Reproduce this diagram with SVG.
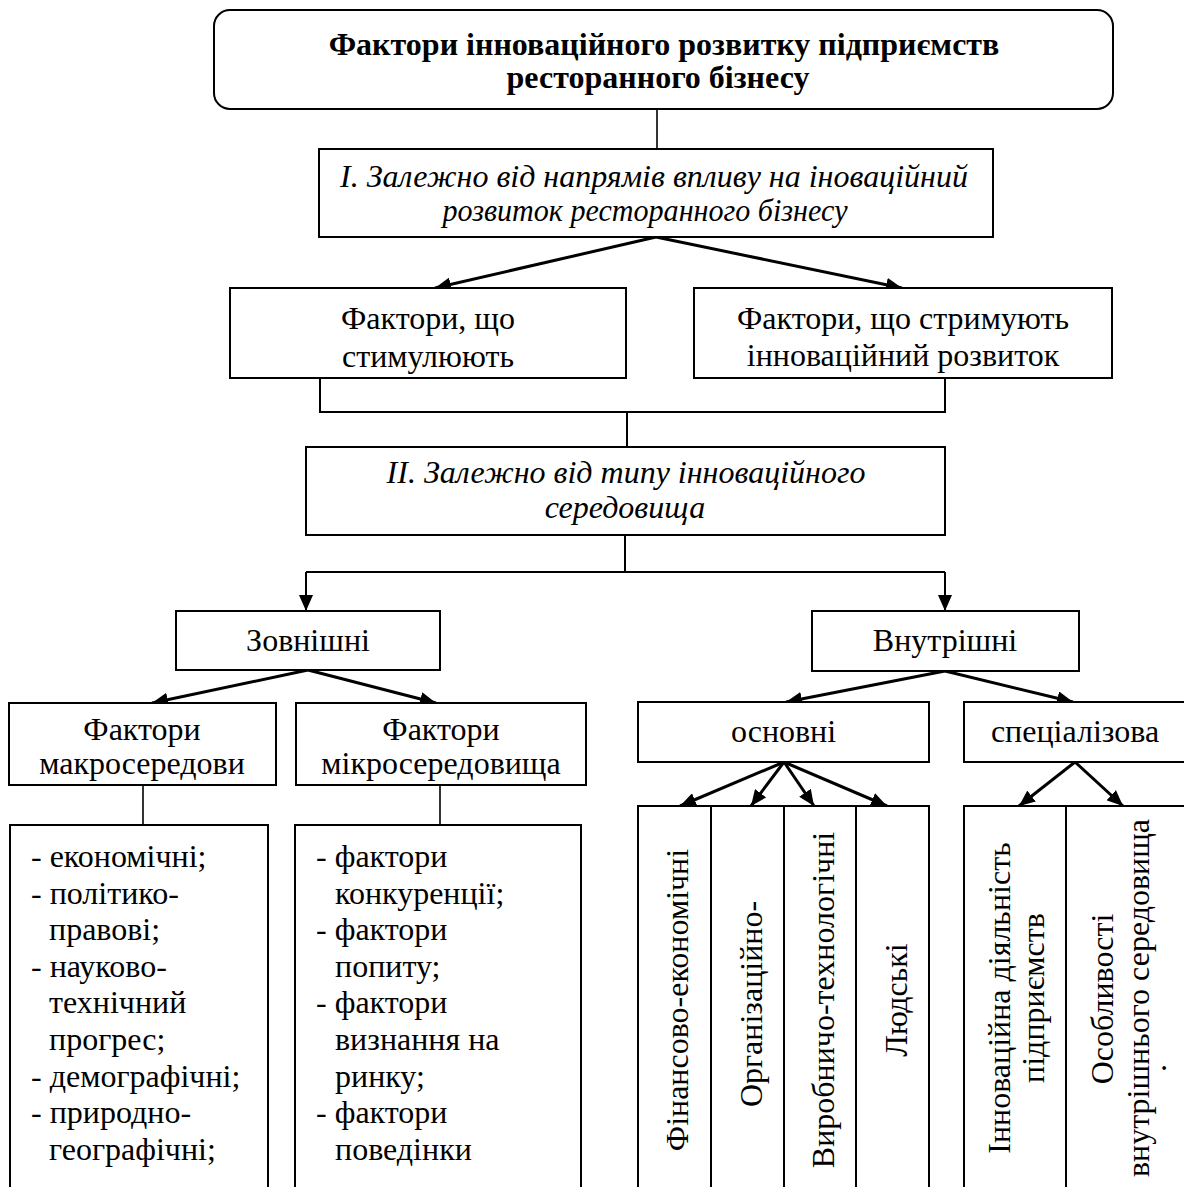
<svg xmlns="http://www.w3.org/2000/svg" width="1184" height="1187" viewBox="0 0 1184 1187">
<style>
.box{fill:#fff;stroke:#000;stroke-width:2}
.t{font-family:'Liberation Serif','Times New Roman',Times,'DejaVu Serif',serif;font-size:32px;fill:#000}
.c{text-anchor:middle}
.b{font-weight:bold;font-size:32px}
.i{font-style:italic;font-size:32px}
.thin{fill:none;stroke:#000;stroke-width:1.6}
.ln{fill:none;stroke:#000;stroke-width:2}
.arr{fill:none;stroke:#000;stroke-width:3;marker-end:url(#ah)}
.arr2{fill:none;stroke:#000;stroke-width:2;marker-end:url(#ah)}
</style>
<defs>
<marker id="ah" markerUnits="userSpaceOnUse" markerWidth="18" markerHeight="14" refX="16" refY="7" orient="auto">
<path d="M0,0 L16,7 L0,14 z" fill="#000"/>
</marker>
</defs>
<rect width="1184" height="1187" fill="#fff"/>

<g id="connectors">
<line class="thin" x1="657" y1="109" x2="657" y2="149"/>
<line class="arr" x1="656" y1="237" x2="435" y2="288"/>
<line class="arr" x1="656" y1="237" x2="902" y2="288"/>
<polyline class="ln" points="320,378 320,412 945,412 945,378"/>
<line class="ln" x1="627" y1="412" x2="627" y2="447"/>
<line class="ln" x1="625" y1="535" x2="625" y2="572"/>
<line class="ln" x1="306" y1="572" x2="945" y2="572"/>
<line class="arr2" x1="306" y1="572" x2="306" y2="611"/>
<line class="arr2" x1="945" y1="572" x2="945" y2="611"/>
<line class="arr" x1="308" y1="670" x2="152" y2="703"/>
<line class="arr" x1="308" y1="670" x2="436" y2="703"/>
<line class="thin" x1="143" y1="785" x2="143" y2="825"/>
<line class="thin" x1="440" y1="785" x2="440" y2="825"/>
<line class="arr" x1="945" y1="671" x2="786" y2="702"/>
<line class="arr" x1="945" y1="671" x2="1073" y2="702"/>
<line class="arr" x1="784" y1="762" x2="680" y2="806"/>
<line class="arr" x1="784" y1="762" x2="751" y2="806"/>
<line class="arr" x1="784" y1="762" x2="814" y2="806"/>
<line class="arr" x1="784" y1="762" x2="887" y2="806"/>
<line class="arr" x1="1075" y1="762" x2="1019" y2="806"/>
<line class="arr" x1="1075" y1="762" x2="1123" y2="806"/>
</g>

<g id="title">
<rect class="box" x="214" y="10" width="899" height="99" rx="16"/>
<text class="t c b" x="664" y="55">Фактори інноваційного розвитку підприємств</text>
<text class="t c b" x="658" y="88">ресторанного бізнесу</text>
</g>

<g id="group-I">
<rect class="box" x="319" y="149" width="674" height="88"/>
<text class="t c i" x="654" y="187">І. Залежно від напрямів впливу на іноваційний</text>
<text class="t c i" x="645" y="221" textLength="405" lengthAdjust="spacingAndGlyphs">розвиток ресторанного бізнесу</text>
</g>

<g id="stimulating">
<rect class="box" x="230" y="288" width="396" height="90"/>
<text class="t c" x="428" y="329">Фактори, що</text>
<text class="t c" x="428" y="367">стимулюють</text>
</g>

<g id="restraining">
<rect class="box" x="694" y="288" width="418" height="90"/>
<text class="t c" x="903" y="329">Фактори, що стримують</text>
<text class="t c" x="903" y="366">інноваційний розвиток</text>
</g>

<g id="group-II">
<rect class="box" x="306" y="447" width="639" height="88"/>
<text class="t c i" x="626" y="483">ІІ. Залежно від типу інноваційного</text>
<text class="t c i" x="625" y="518">середовища</text>
</g>

<g id="external">
<rect class="box" x="176" y="611" width="264" height="59"/>
<text class="t c" x="308" y="651">Зовнішні</text>
</g>

<g id="internal">
<rect class="box" x="812" y="611" width="267" height="60"/>
<text class="t c" x="945" y="651">Внутрішні</text>
</g>

<g id="macro">
<rect class="box" x="9" y="703" width="267" height="82"/>
<text class="t c" x="142" y="740">Фактори</text>
<text class="t c" x="142" y="774">макросередови</text>
</g>

<g id="micro">
<rect class="box" x="296" y="703" width="290" height="82"/>
<text class="t c" x="441" y="740">Фактори</text>
<text class="t c" x="441" y="774">мікросередовища</text>
</g>

<g id="macro-list">
<rect class="box" x="10" y="825" width="258" height="400"/>
<text class="t" x="31" y="867">- економічні;</text>
<text class="t" x="31" y="903.6">- політико-</text>
<text class="t" x="49" y="940.2">правові;</text>
<text class="t" x="31" y="976.8">- науково-</text>
<text class="t" x="49" y="1013.4">технічний</text>
<text class="t" x="49" y="1050">прогрес;</text>
<text class="t" x="31" y="1086.6">- демографічні;</text>
<text class="t" x="31" y="1123.2">- природно-</text>
<text class="t" x="49" y="1159.8">географічні;</text>
</g>

<g id="micro-list">
<rect class="box" x="295" y="825" width="286" height="400"/>
<text class="t" x="316" y="867">- фактори</text>
<text class="t" x="335" y="903.6">конкуренції;</text>
<text class="t" x="316" y="940.2">- фактори</text>
<text class="t" x="335" y="976.8">попиту;</text>
<text class="t" x="316" y="1013.4">- фактори</text>
<text class="t" x="335" y="1050">визнання на</text>
<text class="t" x="335" y="1086.6">ринку;</text>
<text class="t" x="316" y="1123.2">- фактори</text>
<text class="t" x="335" y="1159.8">поведінки</text>
</g>

<g id="basic">
<rect class="box" x="638" y="702" width="291" height="60"/>
<text class="t c" x="783.5" y="742">основні</text>
</g>

<g id="specialized">
<rect class="box" x="964" y="702" width="240" height="60"/>
<text class="t c" x="1075" y="742">спеціалізова</text>
</g>

<g id="basic-columns">
<rect class="box" x="638" y="806" width="291" height="400"/>
<line class="ln" x1="711" y1="806" x2="711" y2="1187"/>
<line class="ln" x1="784" y1="806" x2="784" y2="1187"/>
<line class="ln" x1="856" y1="806" x2="856" y2="1187"/>
<text class="t c" transform="translate(688,1000) rotate(-90)">Фінансово-економічні</text>
<text class="t c" transform="translate(762,1004) rotate(-90)">Організаційно-</text>
<text class="t c" transform="translate(834,1000) rotate(-90)">Виробничо-технологічні</text>
<text class="t c" transform="translate(907,1000) rotate(-90)">Людські</text>
</g>

<g id="specialized-columns">
<rect class="box" x="964" y="806" width="240" height="400"/>
<line class="ln" x1="1066" y1="806" x2="1066" y2="1187"/>
<text class="t c" transform="translate(1010,998) rotate(-90)">Інноваційна діяльність</text>
<text class="t c" transform="translate(1044,998) rotate(-90)">підприємств</text>
<text class="t c" transform="translate(1113,999) rotate(-90)">Особливості</text>
<text class="t c" transform="translate(1149,998) rotate(-90)">внутрішнього середовища</text>
<text class="t c" transform="translate(1166,1068) rotate(-90)">.</text>
</g>
</svg>
